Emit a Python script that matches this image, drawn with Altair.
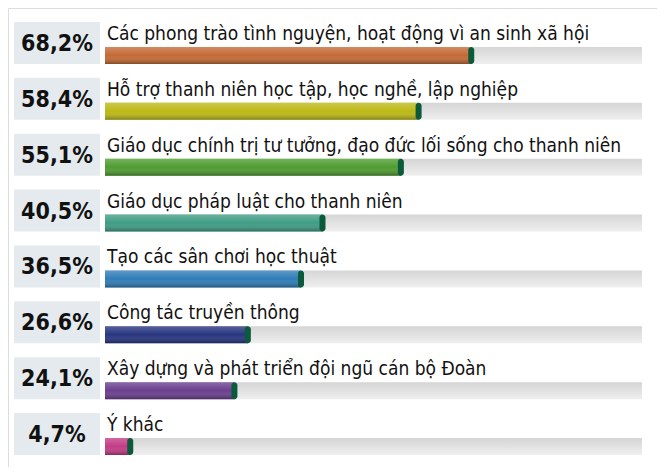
import altair as alt
import pandas as pd

labels = [
    "Các phong trào tình nguyện, hoạt động vì an sinh xã hội",
    "Hỗ trợ thanh niên học tập, học nghề, lập nghiệp",
    "Giáo dục chính trị tư tưởng, đạo đức lối sống cho thanh niên",
    "Giáo dục pháp luật cho thanh niên",
    "Tạo các sân chơi học thuật",
    "Công tác truyền thông",
    "Xây dựng và phát triển đội ngũ cán bộ Đoàn",
    "Ý khác",
]
values = [68.2, 58.4, 55.1, 40.5, 36.5, 26.6, 24.1, 4.7]
palette = ["#c46a36", "#bdb916", "#4f9c30", "#3f9c84", "#2f7db8",
           "#27357f", "#6a3f8e", "#c33c86"]

df = pd.DataFrame({
    "label": labels,
    "value": values,
    "pct": [f"{v:.1f}".replace(".", ",") + "%" for v in values],
    "row": list(range(len(labels))),
    "zero": [0] * len(labels),
    "full": [100] * len(labels),
})

FONT = "Liberation Sans Narrow, DejaVu Sans Condensed, Roboto, sans-serif"

xs = alt.Scale(domain=[0, 100], range=[97, 634])
ys = alt.Scale(domain=[0, 7], range=[14, 405])

base = alt.Chart(df)

box = base.mark_rect(color="#e4eaee", y2Offset=42).encode(
    x=alt.value(6), x2=alt.value(92),
    y=alt.Y("row:Q", scale=ys, axis=None),
    y2=alt.Y2("row:Q"),
)

track = base.mark_rect(
    yOffset=25, y2Offset=42,
    color=alt.LinearGradient(
        gradient="linear", x1=0, y1=0, x2=0, y2=1,
        stops=[alt.GradientStop(offset=0, color="#d5d5d5"),
               alt.GradientStop(offset=1, color="#efefef")],
    ),
).encode(
    x=alt.X("zero:Q", scale=xs, axis=None), x2="full:Q",
    y=alt.Y("row:Q", scale=ys, axis=None), y2="row:Q",
)

bar = base.mark_rect(yOffset=25, y2Offset=42).encode(
    x=alt.X("zero:Q", scale=xs, axis=None), x2="value:Q",
    y=alt.Y("row:Q", scale=ys, axis=None), y2="row:Q",
    color=alt.Color("label:N", scale=alt.Scale(domain=labels, range=palette), legend=None),
)

shade = base.mark_rect(
    yOffset=25, y2Offset=42,
    color=alt.LinearGradient(
        gradient="linear", x1=0, y1=0, x2=0, y2=1,
        stops=[alt.GradientStop(offset=0, color="rgba(255,255,255,0.22)"),
               alt.GradientStop(offset=0.5, color="rgba(255,255,255,0)"),
               alt.GradientStop(offset=1, color="rgba(0,0,0,0.32)")],
    ),
).encode(
    x=alt.X("zero:Q", scale=xs, axis=None), x2="value:Q",
    y=alt.Y("row:Q", scale=ys, axis=None), y2="row:Q",
)

cap = base.mark_rect(
    yOffset=25, y2Offset=42, xOffset=-3, x2Offset=3,
    cornerRadius=3, color="#0b5a3c",
).encode(
    x=alt.X("value:Q", scale=xs, axis=None), x2="value:Q",
    y=alt.Y("row:Q", scale=ys, axis=None), y2="row:Q",
)

label_txt = base.mark_text(
    align="left", baseline="alphabetic", yOffset=18,
    font=FONT, fontSize=19, color="#111111",
).encode(
    x=alt.value(99),
    y=alt.Y("row:Q", scale=ys, axis=None),
    text="label:N",
)

pct_txt = base.mark_text(
    align="center", baseline="alphabetic", yOffset=29,
    font=FONT, fontSize=23, fontWeight="bold", color="#111111",
).encode(
    x=alt.value(49),
    y=alt.Y("row:Q", scale=ys, axis=None),
    text="pct:N",
)

chart = alt.layer(box, track, bar, shade, cap, label_txt, pct_txt).properties(
    width=649, height=459,
    autosize=alt.AutoSizeParams(type="none"),
    padding=0,
).configure_view(stroke=None).configure(background="white")

chart.save("out.html", embed_options={"renderer": "svg", "actions": False})
